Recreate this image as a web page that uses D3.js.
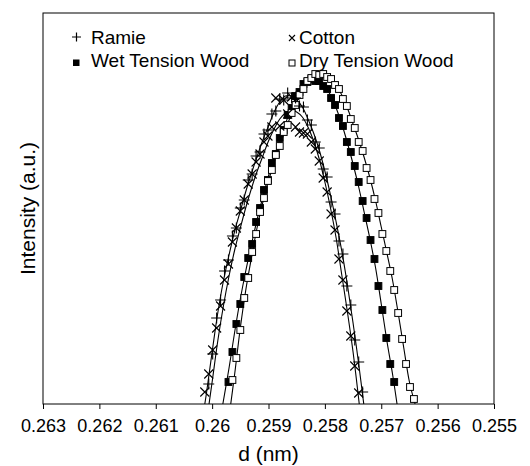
<!DOCTYPE html>
<html>
<head>
<meta charset="utf-8">
<script src="https://cdn.jsdelivr.net/npm/d3@7"></script>
<style>
  body { margin: 0; background: #fff; }
  svg { display: block; font-family: "Liberation Sans", Arial, sans-serif; }
</style>
</head>
<body>
<svg id="chart" width="530" height="466"></svg>
<script>
// d spacing (nm) shared by all measured points
const dGrid = [0.26020, 0.26013, 0.26006, 0.25999, 0.25992, 0.25985, 0.25978, 0.25971,
  0.25964, 0.25957, 0.25950, 0.25943, 0.25936, 0.25929, 0.25922, 0.25915, 0.25908,
  0.25901, 0.25894, 0.25887, 0.25880, 0.25873, 0.25866, 0.25859, 0.25852, 0.25845,
  0.25838, 0.25831, 0.25824, 0.25817, 0.25810, 0.25803, 0.25796, 0.25789, 0.25782,
  0.25775, 0.25768, 0.25761, 0.25754, 0.25747, 0.25740, 0.25733, 0.25726, 0.25719,
  0.25712, 0.25705, 0.25698, 0.25691, 0.25684, 0.25677, 0.25670, 0.25663, 0.25656,
  0.25649, 0.25642, 0.25635];

// measured intensities (a.u.), null = not shown
const ramiePts = [null, null, 20, 50, 86, 104, 133, 144, 168, 176, 196, 204, 224, 230, 248, 252,
  270, 274, 290, 293, 305, 304, 311, 306, 306, 298, 297, 284, 279, 262, 256, 235, 227, 202,
  190, 163, 150, 118, 99, 64, 42, 12, null, null, null, null, null, null, null, null, null,
  null, null, null, null, null];
const cottonPts = [null, 12, 30, 54, 76, 98, 124, 140, 162, 176, 193, 204, 220, 230, 242, 250,
  262, 268, 277, 306, 278, 304, 290, 307, 277, 272, 271, 270, 262, 255, 243, 226, 212, 190,
  174, 145, 124, 93, 68, 38, 11, null, null, null, null, null, null, null, null, null, null,
  null, null, null, null, null];
const wetPts = [null, null, null, null, null, null, null, 22, 52, 80, 100, 127, 146, 160, 182,
  196, 214, 224, 241, 250, 266, 274, 289, 296, 308, 312, 320, 322, 325, 323, 323, 318, 315,
  306, 299, 286, 278, 262, 252, 238, 222, 203, 186, 164, 145, 118, 94, 66, 40, 22, null,
  null, null, null, null, null];
const dryPts = [null, null, null, null, null, null, null, null, 24, 46, 74, 106, 126, 152, 170,
  192, 206, 223, 234, 249, 258, 272, 279, 291, 299, 309, 315, 323, 326, 330, 329, 330, 327,
  325, 319, 315, 305, 298, 285, 276, 262, 253, 236, 224, 205, 191, 170, 153, 133, 114, 91,
  65, 40, 17, 5, null];

// fitted curves [d, intensity]
const ramieFit = [[0.26013,0],[0.2601,11],[0.2600,52],[0.2599,91],[0.2598,123],[0.2597,149],
  [0.2596,173],[0.2595,193],[0.2594,213],[0.2593,231],[0.2592,248],[0.2591,264],[0.2590,278],
  [0.2589,292],[0.2588,302],[0.2587,308],[0.2586,308],[0.2585,304],[0.2584,297],[0.2583,285],
  [0.2582,271],[0.2581,254],[0.2580,233],[0.2579,209],[0.2578,182],[0.2577,153],[0.2576,119],
  [0.2575,81],[0.2574,40],[0.25731,0]];
const cottonFit = [[0.260055,0],[0.2600,22],[0.2599,63],[0.2598,98],[0.2597,128],[0.2596,154],
  [0.2595,176],[0.2594,197],[0.2593,216],[0.2592,233],[0.2591,248],[0.2590,263],[0.2589,275],
  [0.2588,285],[0.2587,291],[0.2586,294],[0.2585,292],[0.2584,287],[0.2583,277],[0.2582,263],
  [0.2581,245],[0.2580,222],[0.2579,196],[0.2578,166],[0.2577,129],[0.2576,92],[0.2575,52],
  [0.25739,0]];
const wetFit = [[0.25981,0],[0.2597,36],[0.2596,72],[0.2595,105],[0.2594,134],[0.2593,160],
  [0.2592,185],[0.2591,207],[0.2590,228],[0.2589,247],[0.2588,264],[0.2587,280],[0.2586,296],
  [0.2585,308],[0.2584,317],[0.2583,323],[0.2582,324],[0.2581,322],[0.2580,317],[0.2579,309],
  [0.2578,296],[0.2577,280],[0.2576,261],[0.2575,240],[0.2574,217],[0.2573,191],[0.2572,165],
  [0.2571,136],[0.2570,100],[0.2569,63],[0.2568,30],[0.25672,0]];
const dryFit = [[0.25967,0],[0.2596,30],[0.2595,76],[0.2594,115],[0.2593,147],[0.2592,177],
  [0.2591,202],[0.2590,223],[0.2589,242],[0.2588,259],[0.2587,274],[0.2586,289],[0.2585,302],
  [0.2584,313],[0.2583,322],[0.2582,328],[0.2581,330],[0.2580,329],[0.2579,325],[0.2578,319],
  [0.2577,309],[0.2576,296],[0.2575,280],[0.2574,264],[0.2573,246],[0.2572,226],[0.2571,203],
  [0.2570,177],[0.2569,151],[0.2568,124],[0.2567,91],[0.2566,56],[0.2565,22],[0.2564,0]];

const xTicks = [0.263, 0.262, 0.261, 0.26, 0.259, 0.258, 0.257, 0.256, 0.255];
const xLabel = 'd (nm)';
const yLabel = 'Intensity (a.u.)';

// layout
const svg = d3.select('#chart');
const plot = { left: 43, right: 494, top: 13, bottom: 404 };

const x = d3.scaleLinear().domain([0.263, 0.255]).range([plot.left, plot.right]);
const y = d3.scaleLinear().domain([0, 391]).range([plot.bottom, plot.top]);

svg.append('defs').append('clipPath').attr('id', 'clip')
  .append('rect')
  .attr('x', plot.left).attr('y', plot.top)
  .attr('width', plot.right - plot.left).attr('height', plot.bottom - plot.top);

// x axis
const xAxis = svg.append('g')
  .attr('transform', `translate(0,${plot.bottom})`)
  .call(d3.axisBottom(x).tickValues(xTicks).tickFormat(d3.format('.3~f'))
    .tickSize(5).tickSizeOuter(0).tickPadding(10));
xAxis.select('.domain').remove();
xAxis.selectAll('line').attr('stroke', '#000');
xAxis.selectAll('text').attr('font-size', 18).attr('fill', '#000')
  .attr('font-family', '"Liberation Sans", Arial, sans-serif');

// frame
svg.append('rect')
  .attr('x', plot.left).attr('y', plot.top)
  .attr('width', plot.right - plot.left).attr('height', plot.bottom - plot.top)
  .attr('fill', 'none').attr('stroke', '#000').attr('stroke-width', 1);

// titles
svg.append('text')
  .attr('x', (plot.left + plot.right) / 2).attr('y', 461)
  .attr('text-anchor', 'middle').attr('font-size', 21)
  .text(xLabel);
svg.append('text')
  .attr('transform', `translate(35,${(plot.top + plot.bottom) / 2}) rotate(-90)`)
  .attr('text-anchor', 'middle').attr('font-size', 21)
  .text(yLabel);

// fitted lines
const line = d3.line().x(d => x(d[0])).y(d => y(d[1])).curve(d3.curveCatmullRom);
const fits = svg.append('g').attr('clip-path', 'url(#clip)');
[ramieFit, cottonFit, wetFit, dryFit].forEach(f => {
  fits.append('path').datum(f)
    .attr('d', line)
    .attr('fill', 'none').attr('stroke', '#000').attr('stroke-width', 1.1);
});

// markers
const pts = vals => dGrid.map((d, i) => [d, vals[i]]).filter(p => p[1] != null);
const marks = svg.append('g');

function squares(vals, fill) {
  marks.selectAll(null).data(pts(vals)).enter().append('rect')
    .attr('x', d => x(d[0]) - 3.4).attr('y', d => y(d[1]) - 3.4)
    .attr('width', 6.8).attr('height', 6.8)
    .attr('fill', fill).attr('stroke', '#000').attr('stroke-width', 1);
}
squares(wetPts, '#000');
squares(dryPts, '#fff');

const plus = (cx, cy, r) => `M${cx - r},${cy}H${cx + r}M${cx},${cy - r}V${cy + r}`;
const cross = (cx, cy, r) => `M${cx - r},${cy - r}L${cx + r},${cy + r}M${cx - r},${cy + r}L${cx + r},${cy - r}`;

marks.selectAll(null).data(pts(ramiePts)).enter().append('path')
  .attr('d', d => plus(x(d[0]), y(d[1]), 5.5))
  .attr('stroke', '#000').attr('stroke-width', 1.1).attr('fill', 'none');
marks.selectAll(null).data(pts(cottonPts)).enter().append('path')
  .attr('d', d => cross(x(d[0]), y(d[1]), 4.5))
  .attr('stroke', '#000').attr('stroke-width', 1.1).attr('fill', 'none');

// legend
const legend = svg.append('g').attr('font-size', 19);
legend.append('path').attr('d', plus(76.5, 37, 4.5)).attr('stroke', '#000').attr('stroke-width', 1.2);
legend.append('text').attr('x', 91).attr('y', 44).text('Ramie');
legend.append('rect').attr('x', 73).attr('y', 59.5).attr('width', 6.5).attr('height', 6.5).attr('fill', '#000');
legend.append('text').attr('x', 91).attr('y', 67).text('Wet Tension Wood');
legend.append('path').attr('d', cross(292, 38, 3)).attr('stroke', '#000').attr('stroke-width', 1.1);
legend.append('text').attr('x', 299).attr('y', 44).text('Cotton');
legend.append('rect').attr('x', 289).attr('y', 60).attr('width', 6).attr('height', 6)
  .attr('fill', '#fff').attr('stroke', '#000').attr('stroke-width', 1);
legend.append('text').attr('x', 299).attr('y', 67).text('Dry Tension Wood');
</script>
</body>
</html>
